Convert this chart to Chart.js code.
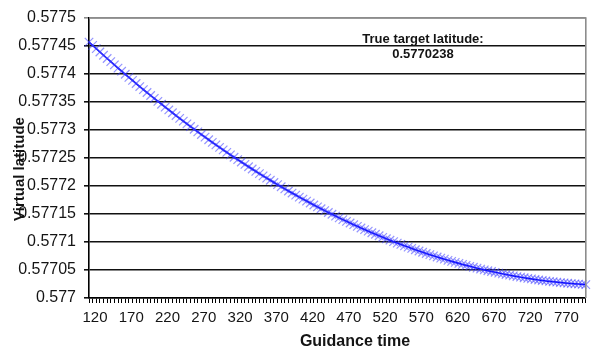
<!DOCTYPE html>
<html>
<head>
<meta charset="utf-8">
<title>Virtual latitude vs guidance time</title>
<script src="https://cdn.jsdelivr.net/npm/chart.js@4.4.1/dist/chart.umd.min.js"></script>
<style>
  html, body { margin: 0; padding: 0; background: #ffffff; }
  canvas { display: block; }
</style>
</head>
<body>
<canvas id="chart" width="593" height="351"></canvas>
<script>
// Guidance time categories (step 5)
const guidanceTime = [
  120, 125, 130, 135, 140, 145, 150, 155, 160, 165,
  170, 175, 180, 185, 190, 195, 200, 205, 210, 215,
  220, 225, 230, 235, 240, 245, 250, 255, 260, 265,
  270, 275, 280, 285, 290, 295, 300, 305, 310, 315,
  320, 325, 330, 335, 340, 345, 350, 355, 360, 365,
  370, 375, 380, 385, 390, 395, 400, 405, 410, 415,
  420, 425, 430, 435, 440, 445, 450, 455, 460, 465,
  470, 475, 480, 485, 490, 495, 500, 505, 510, 515,
  520, 525, 530, 535, 540, 545, 550, 555, 560, 565,
  570, 575, 580, 585, 590, 595, 600, 605, 610, 615,
  620, 625, 630, 635, 640, 645, 650, 655, 660, 665,
  670, 675, 680, 685, 690, 695, 700, 705, 710, 715,
  720, 725, 730, 735, 740, 745, 750, 755, 760, 765,
  770, 775, 780, 785, 790, 795, 800, 805
];

// Virtual latitude at each guidance time
const virtualLatitude = [
  0.5774570, 0.5774511, 0.5774452, 0.5774393, 0.5774335, 0.5774277, 0.5774220, 0.5774163, 0.5774106, 0.5774050,
  0.5773995, 0.5773939, 0.5773885, 0.5773830, 0.5773776, 0.5773722, 0.5773669, 0.5773616, 0.5773564, 0.5773512,
  0.5773460, 0.5773409, 0.5773358, 0.5773308, 0.5773258, 0.5773208, 0.5773159, 0.5773110, 0.5773062, 0.5773014,
  0.5772967, 0.5772919, 0.5772873, 0.5772826, 0.5772780, 0.5772735, 0.5772690, 0.5772645, 0.5772601, 0.5772557,
  0.5772514, 0.5772471, 0.5772428, 0.5772386, 0.5772344, 0.5772303, 0.5772262, 0.5772221, 0.5772181, 0.5772141,
  0.5772102, 0.5772063, 0.5772024, 0.5771986, 0.5771948, 0.5771911, 0.5771874, 0.5771838, 0.5771801, 0.5771766,
  0.5771731, 0.5771696, 0.5771661, 0.5771627, 0.5771594, 0.5771560, 0.5771527, 0.5771495, 0.5771463, 0.5771431,
  0.5771400, 0.5771369, 0.5771339, 0.5771309, 0.5771280, 0.5771250, 0.5771222, 0.5771193, 0.5771165, 0.5771138,
  0.5771111, 0.5771084, 0.5771058, 0.5771032, 0.5771006, 0.5770981, 0.5770957, 0.5770932, 0.5770909, 0.5770885,
  0.5770862, 0.5770839, 0.5770817, 0.5770795, 0.5770774, 0.5770753, 0.5770732, 0.5770712, 0.5770693, 0.5770673,
  0.5770654, 0.5770636, 0.5770618, 0.5770600, 0.5770583, 0.5770566, 0.5770549, 0.5770533, 0.5770517, 0.5770502,
  0.5770487, 0.5770473, 0.5770459, 0.5770445, 0.5770432, 0.5770419, 0.5770407, 0.5770395, 0.5770383, 0.5770372,
  0.5770361, 0.5770351, 0.5770341, 0.5770331, 0.5770322, 0.5770313, 0.5770305, 0.5770297, 0.5770290, 0.5770283,
  0.5770276, 0.5770270, 0.5770264, 0.5770258, 0.5770253, 0.5770249, 0.5770244, 0.5770240
];

// Latitude axis range and step
const latitudeMin = 0.577;
const latitudeMax = 0.5775;
const latitudeStep = 0.00005;

// Label every tenth category
const labelEvery = 10;

const trueTargetLatitude = 0.5770238;

const FONT = '"Liberation Sans", Arial, sans-serif';
const TEXT_COLOR = '#141414';

// Axis titles, target annotation and the grey plot frame
const decorations = {
  id: 'decorations',
  afterDraw(chart) {
    const { ctx, chartArea } = chart;
    ctx.save();

    // grey frame on the top and right of the plot area
    ctx.strokeStyle = '#8c8c8c';
    ctx.lineWidth = 1.6;
    ctx.beginPath();
    ctx.moveTo(chartArea.left, chartArea.top);
    ctx.lineTo(chartArea.right, chartArea.top);
    ctx.lineTo(chartArea.right, chartArea.bottom);
    ctx.stroke();

    ctx.fillStyle = TEXT_COLOR;

    // x-axis title
    ctx.font = 'bold 16px ' + FONT;
    ctx.textAlign = 'center';
    ctx.textBaseline = 'middle';
    ctx.fillText('Guidance time', 355, 342);

    // y-axis title
    ctx.save();
    ctx.translate(20, 169);
    ctx.rotate(-Math.PI / 2);
    ctx.font = 'bold 15px ' + FONT;
    ctx.fillText('Virtual latitude', 0, 0);
    ctx.restore();

    // target latitude note
    ctx.font = 'bold 13px ' + FONT;
    ctx.textBaseline = 'alphabetic';
    ctx.fillText('True target latitude:', 423, 43);
    ctx.fillText(String(trueTargetLatitude), 423, 58);

    ctx.restore();
  }
};

new Chart(document.getElementById('chart'), {
  type: 'line',
  data: {
    labels: guidanceTime.map(String),
    datasets: [{
      label: 'Virtual latitude',
      data: virtualLatitude,
      borderColor: '#0000ff',
      borderWidth: 1.6,
      pointStyle: 'crossRot',
      pointRadius: 6,
      pointBorderColor: 'rgba(60, 60, 255, 0.55)',
      pointBorderWidth: 1.2,
      pointHoverRadius: 6,
      tension: 0,
      fill: false,
      clip: false
    }]
  },
  options: {
    responsive: false,
    animation: false,
    events: [],
    layout: { padding: { top: 18, right: 6, left: 0, bottom: 0 } },
    plugins: {
      legend: { display: false },
      tooltip: { enabled: false }
    },
    scales: {
      x: {
        type: 'category',
        offset: false,
        afterFit(scale) { scale.height = 53; },
        grid: {
          drawOnChartArea: false,
          drawTicks: true,
          tickLength: 5,
          color: '#000',
          lineWidth: 1
        },
        border: { color: '#000', width: 1.6 },
        ticks: {
          autoSkip: false,
          maxRotation: 0,
          minRotation: 0,
          padding: 6,
          labelOffset: 6,
          color: TEXT_COLOR,
          font: { family: FONT, size: 15 },
          callback(value, index) {
            return index % labelEvery === 0 ? this.getLabelForValue(value) : '';
          }
        }
      },
      y: {
        min: latitudeMin,
        max: latitudeMax,
        afterFit(scale) { scale.width = 89; },
        grid: {
          color: (c) => (c.index === 10 ? '#8c8c8c' : '#111'),
          lineWidth: 1.6,
          tickLength: 5
        },
        border: { color: '#000', width: 1.6 },
        ticks: {
          stepSize: latitudeStep,
          padding: 8,
          color: TEXT_COLOR,
          font: { family: FONT, size: 16 },
          callback(value) { return String(+value.toFixed(5)); }
        }
      }
    }
  },
  plugins: [decorations]
});
</script>
</body>
</html>
